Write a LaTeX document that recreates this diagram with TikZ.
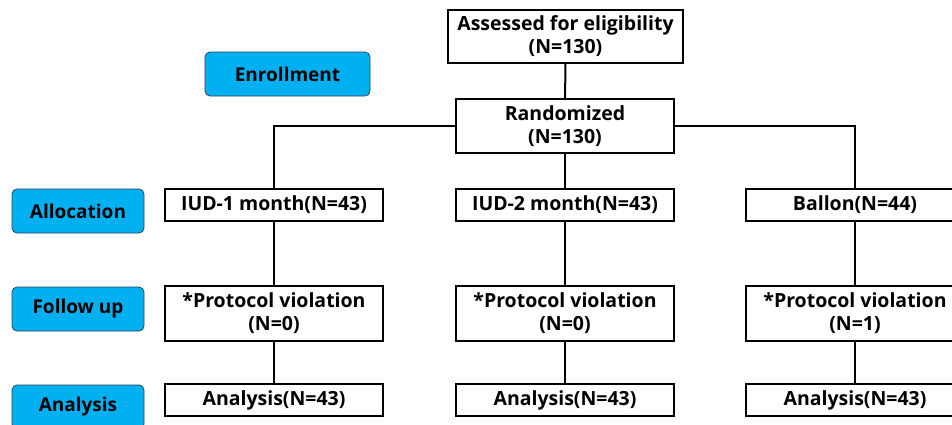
\documentclass[tikz,border=0pt]{standalone}
\usepackage{fontspec}
\setmainfont{Open Sans}
\begin{document}
\begin{tikzpicture}[x=1pt,y=-1pt,
  box/.style={draw=black, line width=2pt, fill=white, minimum width=218pt, align=center, inner sep=0pt, font=\bfseries\fontsize{19.5}{23}\selectfont},
  lab/.style={line width=0.8pt, rounded corners=5pt, align=center, inner sep=0pt, font=\bfseries\fontsize{19}{22}\selectfont},
  conn/.style={line width=2pt}]
\definecolor{labfill}{HTML}{00B0F0}
\definecolor{labdraw}{HTML}{2F3F55}
\tikzset{lab/.append style={fill=labfill, draw=labdraw}}
\clip (0,0) rectangle (952,424);
\useasboundingbox (0,0) rectangle (952,424);
% labels
\node[lab, minimum width=165pt, minimum height=44pt] (enr) at (287.5,74) {Enrollment};
\node[lab, minimum width=132pt, minimum height=44pt] (alloc) at (78,211) {Allocation};
\node[lab, minimum width=132pt, minimum height=44pt] (fol) at (78,309) {Follow up};
\node[lab, minimum width=132pt, minimum height=44pt] (ana) at (78,407) {Analysis};
% top
\node[box, minimum width=235pt, minimum height=53pt] (ass) at (565.5,36.5) {Assessed for eligibility\\(N=130)};
\node[box, minimum width=218pt, minimum height=54pt] (ran) at (565,126) {Randomized\\(N=130)};
% columns
\node[box, minimum height=32pt] (a1) at (274,205) {IUD-1 month(N=43)};
\node[box, minimum height=32pt] (a2) at (565,205) {IUD-2 month(N=43)};
\node[box, minimum height=32pt] (a3) at (855,205) {Ballon(N=44)};
\node[box, minimum height=55pt] (p1) at (274,313.5) {*Protocol violation\\(N=0)};
\node[box, minimum height=55pt] (p2) at (565,313.5) {*Protocol violation\\(N=0)};
\node[box, minimum height=55pt] (p3) at (855,313.5) {*Protocol violation\\(N=1)};
\node[box, minimum height=32pt] (n1) at (274,400) {Analysis(N=43)};
\node[box, minimum height=32pt] (n2) at (565,400) {Analysis(N=43)};
\node[box, minimum height=32pt] (n3) at (855,400) {Analysis(N=43)};
% connectors
\draw[conn] (ass) -- (ran);
\draw[conn] (ran.west) -| (a1.north);
\draw[conn] (ran.east) -| (a3.north);
\draw[conn] (ran) -- (a2);
\foreach \i in {1,2,3}{
  \draw[conn] (a\i) -- (p\i);
  \draw[conn] (p\i) -- (n\i);
}
\end{tikzpicture}
\end{document}
